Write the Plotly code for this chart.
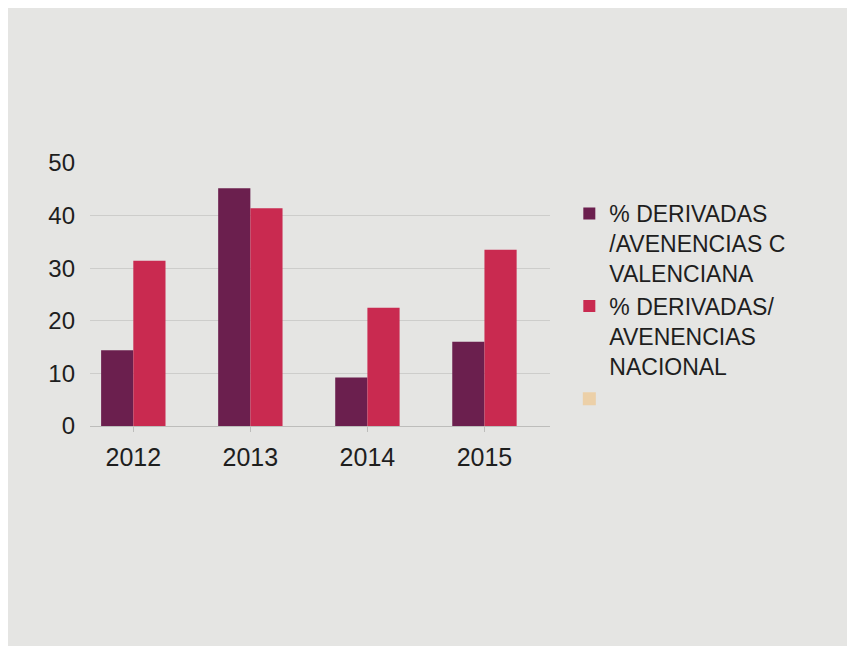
import plotly.graph_objects as go

years = ["2012", "2013", "2014", "2015"]
valenciana = [14.4, 45.2, 9.2, 16.0]
nacional = [31.4, 41.4, 22.5, 33.5]
name_val = "% DERIVADAS<br>/AVENENCIAS C<br>VALENCIANA"
name_nac = "% DERIVADAS/<br>AVENENCIAS<br>NACIONAL"

fig = go.Figure()
fig.add_bar(x=years, y=valenciana, name=name_val, marker_color="#6b1f4e", marker_line_width=0)
fig.add_bar(x=years, y=nacional, name=name_nac, marker_color="#c92a50", marker_line_width=0)
fig.add_scatter(x=[None], y=[None], mode="markers", name=" ",
                marker=dict(symbol="square", size=13, color="#ecd0a8"), showlegend=True)

fig.update_layout(
    width=855, height=646,
    margin=dict(l=82, r=313, t=155, b=228),
    paper_bgcolor="#e5e5e3",
    plot_bgcolor="#e5e5e3",
    barmode="group",
    bargap=0.45,
    bargroupgap=0,
    font=dict(family="Liberation Sans, Arial", color="#1e1e1e", size=23),
    legend=dict(
        x=1.042, y=0.89, xanchor="left", yanchor="top",
        font=dict(size=23), bgcolor="rgba(0,0,0,0)",
        tracegroupgap=4, itemwidth=30, valign="top",
    ),
    showlegend=True,
)
fig.update_xaxes(
    range=[-0.37, 3.56], showgrid=False, showline=True, linecolor="#bdbdbb",
    ticks="outside", ticklen=5, tickcolor="#bdbdbb", ticklabelstandoff=4,
    tickfont=dict(size=25), automargin=False,
)
fig.update_yaxes(
    range=[0, 50], dtick=10, showgrid=True, gridcolor="#cdcdcb", zeroline=False,
    ticks="", ticklabelstandoff=14, tickfont=dict(size=24), automargin=False,
)
fig.write_html("out.html")
